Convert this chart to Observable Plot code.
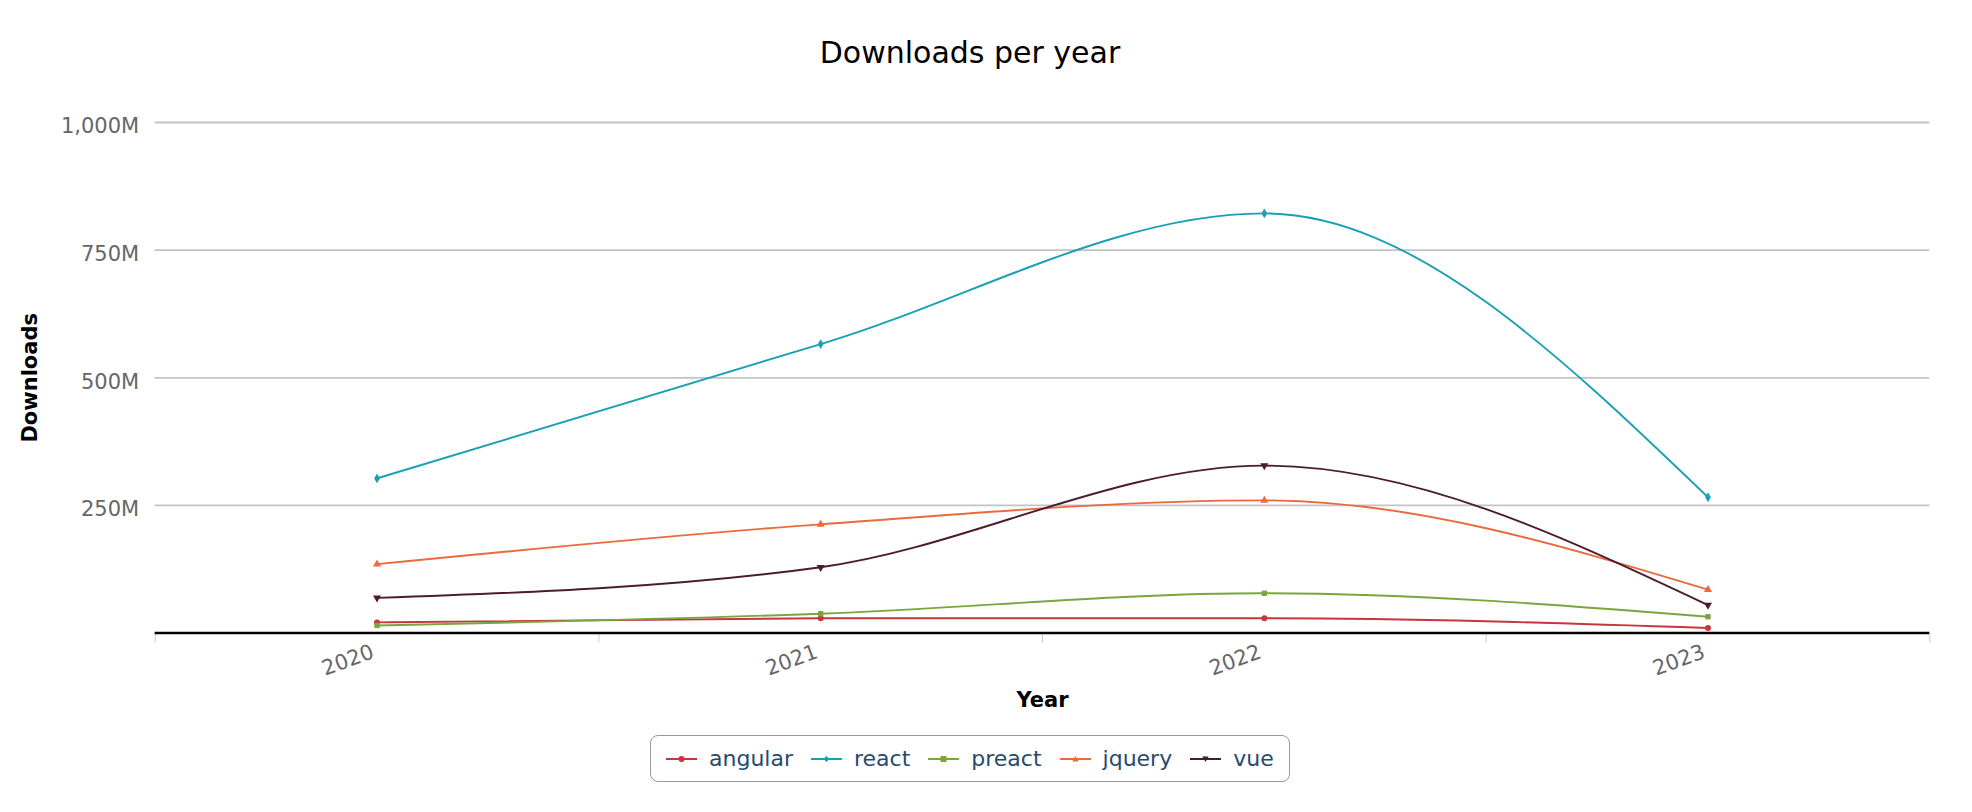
<!DOCTYPE html>
<html>
<head>
<meta charset="utf-8">
<script src="https://cdn.jsdelivr.net/npm/d3@7"></script>
<script src="https://cdn.jsdelivr.net/npm/@observablehq/plot@0.6"></script>
<style>
  html, body { margin: 0; padding: 0; background: #fff; }
  body { width: 1972px; height: 812px; position: relative; overflow: hidden; font-family: "DejaVu Sans", sans-serif; }
  #title { position: absolute; left: 0; top: 38px; width: 1940px; text-align: center; font-size: 30px; line-height: 30px; color: #000; }
  #chart { position: absolute; left: 0; top: 100px; }
  #legend { position: absolute; left: 650px; top: 735px; height: 47px; box-sizing: border-box; border: 1.5px solid #999; border-radius: 8px;
            display: flex; align-items: center; padding: 0 15px 0 15px; }
  .item { display: flex; align-items: center; margin-right: 18px; font-size: 22px; color: #274b6d; }
  .item:last-child { margin-right: 0; }
  .item svg { margin-right: 12px; }
  #chart svg [aria-label="y-axis label"] text, #chart svg [aria-label="x-axis label"] text { font-weight: bold; fill: #000; }
</style>
</head>
<body>
<div id="title">Downloads per year</div>
<div id="chart"></div>
<div id="legend"></div>
<script>
// ---- data (values in millions of downloads) ----
const years = [2020, 2021, 2022, 2023];
const seriesNames = ["angular", "react", "preact", "jquery", "vue"];
const seriesColors = ["#c8363d", "#1aa0b4", "#79a63e", "#ea6a3c", "#4b1c30"];
const seriesSymbols = ["circle", "diamond", "square", "triangle", "triangle"];
const seriesRotate = [0, 0, 0, 0, 180];
const angular = [21, 29, 29, 10];
const react = [303, 566, 822, 266];
const preact = [15, 38, 78, 32];
const jquery = [135, 213, 260, 85];
const vue = [69, 129, 328, 55];
const yTicks = [250, 500, 750, 1000];

const seriesValues = [angular, react, preact, jquery, vue];
const rows = seriesNames.map((name, i) => years.map((year, j) => ({series: name, year, value: seriesValues[i][j] * 1e6})));
const boundaries = years.map(y => y - 0.5).concat([years[years.length - 1] + 0.5]);

const marks = [
  Plot.gridY(yTicks.map(v => v * 1e6), {stroke: "#c4c4c4", strokeOpacity: 1, strokeWidth: 1.8}),
  Plot.axisY(yTicks.map(v => v * 1e6), {
    tickSize: 0, tickPadding: 16, dy: 4,
    tickFormat: d => d3.format(",")(d / 1e6) + "M",
    fill: "#666", label: "Downloads", labelAnchor: "center", labelOffset: 133, labelArrow: false
  }),
  Plot.axisX({ticks: boundaries, tickSize: 10, stroke: "#c0d0e0", tickFormat: () => "", label: null}),
  Plot.axisX({
    ticks: years, tickSize: 0, tickRotate: -20, tickPadding: 18, dx: -4, tickFormat: d => String(d),
    fill: "#666", label: "Year", labelAnchor: "center", labelOffset: 74, labelArrow: false
  }),
  Plot.ruleY([0], {stroke: "#000", strokeWidth: 2.5})
];

rows.forEach((data, i) => {
  marks.push(Plot.line(data, {x: "year", y: "value", stroke: seriesColors[i], strokeWidth: 1.9, curve: "monotone-x"}));
  marks.push(Plot.dot(data, {x: "year", y: "value", fill: seriesColors[i], stroke: "none", r: 3, symbol: () => seriesSymbols[i], rotate: seriesRotate[i]}));
});

const chart = Plot.plot({
  width: 1972,
  height: 620,
  marginTop: 22,
  marginBottom: 87.4,
  marginLeft: 154.7,
  marginRight: 42.7,
  style: {fontFamily: "DejaVu Sans, sans-serif", fontSize: "21px", color: "#666", background: "#fff"},
  x: {domain: [boundaries[0], boundaries[boundaries.length - 1]], axis: null},
  y: {domain: [0, 1000e6], axis: null},
  marks
});
document.getElementById("chart").appendChild(chart);

// ---- legend ----
const legend = document.getElementById("legend");
seriesNames.forEach((name, i) => {
  const item = document.createElement("div");
  item.className = "item";
  const sym = seriesSymbols[i];
  let marker;
  if (sym === "circle") marker = `<circle cx="15.5" cy="8" r="3" fill="${seriesColors[i]}"/>`;
  else if (sym === "diamond") marker = `<path d="M15.5 5 L18.5 8 L15.5 11 L12.5 8 Z" fill="${seriesColors[i]}"/>`;
  else if (sym === "square") marker = `<rect x="12.5" y="5" width="6" height="6" fill="${seriesColors[i]}"/>`;
  else marker = `<path d="M15.5 5 L18.7 10.5 L12.3 10.5 Z" fill="${seriesColors[i]}" transform="rotate(${seriesRotate[i]} 15.5 8)"/>`;
  item.innerHTML = `<svg width="31" height="16"><line x1="0" x2="31" y1="8" y2="8" stroke="${seriesColors[i]}" stroke-width="2"/>${marker}</svg><span>${name}</span>`;
  legend.appendChild(item);
});
</script>
</body>
</html>
